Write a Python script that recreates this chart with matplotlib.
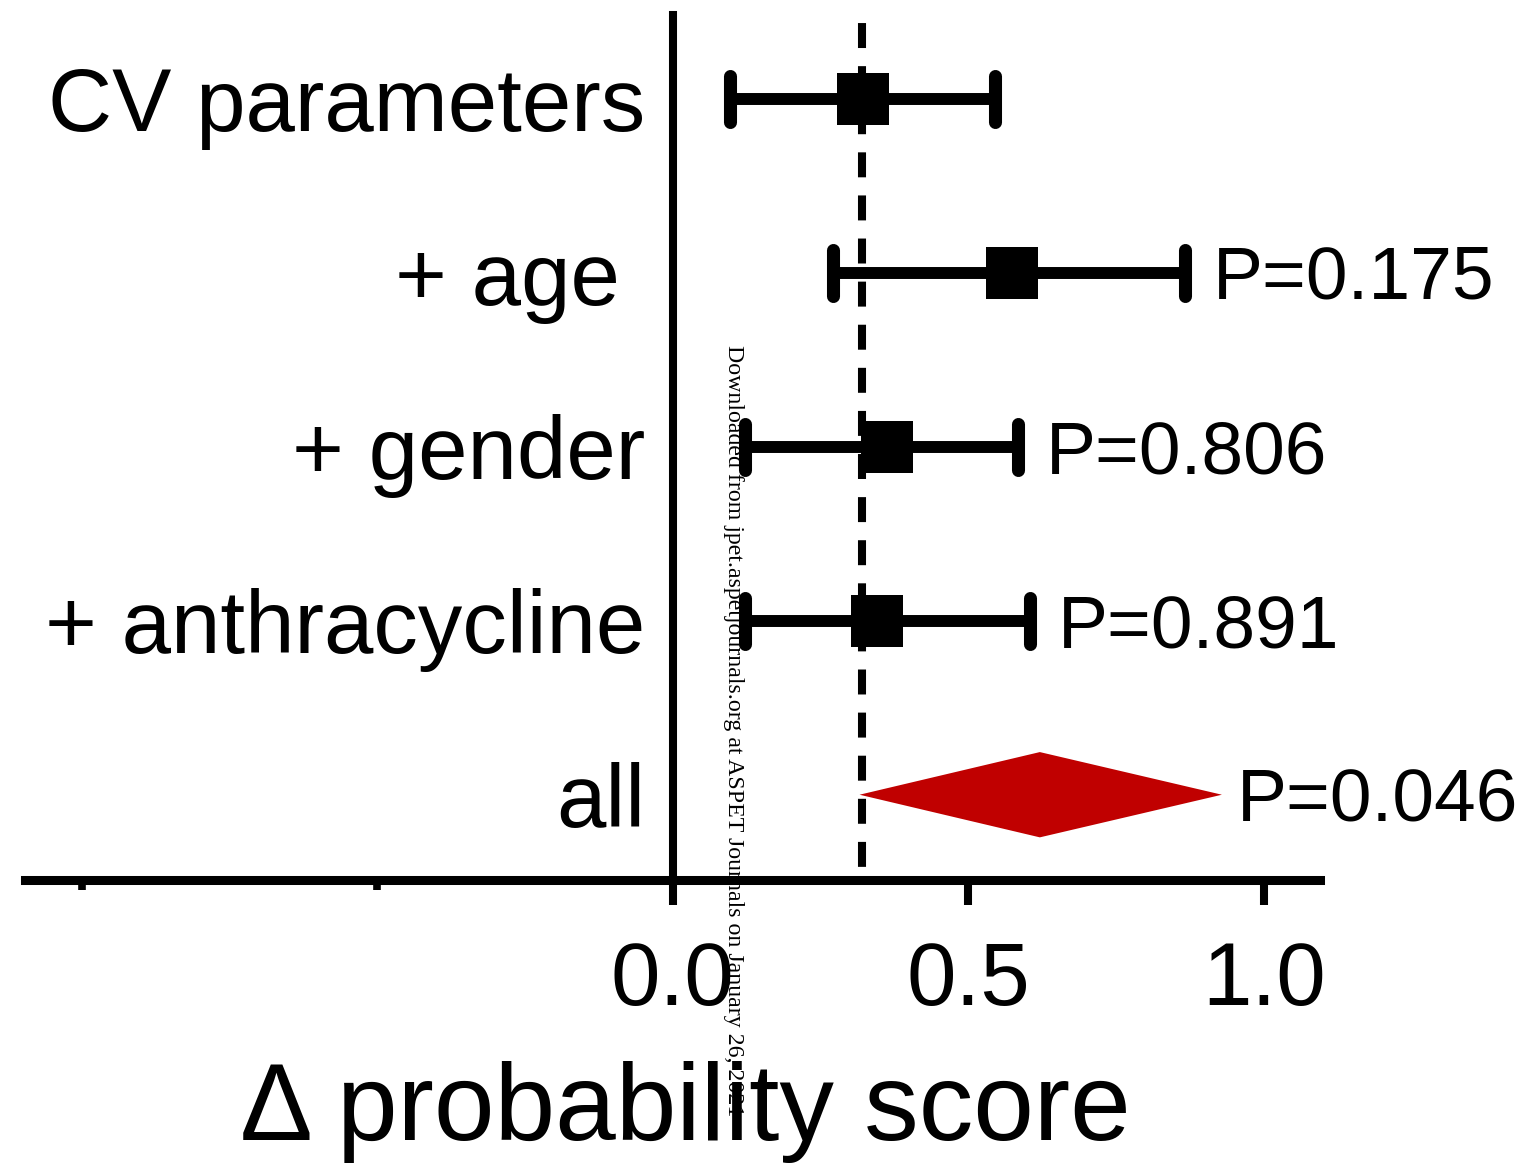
import matplotlib
matplotlib.use("Agg")
import matplotlib.pyplot as plt
import numpy as np

plt.rcParams['font.family'] = ['Liberation Sans', 'DejaVu Sans']

# ---- data ----
labels = ["CV parameters", "+ age ", "+ gender", "+ anthracycline", "all"]
estimate = [0.321, 0.574, 0.362, 0.345]
lower = [0.097, 0.271, 0.122, 0.122]
upper = [0.545, 0.866, 0.584, 0.604]
all_lo, all_mid, all_hi = 0.316, 0.621, 0.929
pvals = ["", "P=0.175", "P=0.806", "P=0.891", "P=0.046"]
ref_value = 0.320
xtick_vals = [0.0, 0.5, 1.0]
xtick_labels = ["0.0", "0.5", "1.0"]
minor_ticks = [-1.0, -0.5]
xlabel = "\u0394 probability score"
watermark = "Downloaded from jpet.aspetjournals.org at ASPET Journals on January 26, 2021"

W, H = 1534, 1166
fig = plt.figure(figsize=(W / 100, H / 100), dpi=100)
ax = fig.add_axes([25 / W, 1 - 880 / H, (1320 - 25) / W, (880 - 15) / H])

ypos = [5, 4, 3, 2, 1]
ax.set_xlim(-1.096, 1.095)
ax.set_ylim(0.51, 5.48)

# reference dashed line
ax.axvline(ref_value, color='black', lw=5.8, linestyle=(3.72, (3.1, 2.25)), zorder=1)

# error bars
bar_y = ypos[:4]
ax.hlines(bar_y, lower, upper, color='black', lw=8.6, zorder=2)
cap_h = 0.132
ax.vlines(lower, np.array(bar_y) - cap_h, np.array(bar_y) + cap_h, color='black',
          lw=9.4, capstyle='round', zorder=2)
ax.vlines(upper, np.array(bar_y) - cap_h, np.array(bar_y) + cap_h, color='black',
          lw=9.4, capstyle='round', zorder=2)
ax.plot(estimate, bar_y, 's', color='black', ms=37.4, mew=0, zorder=3)

# diamond for "all"
dh = 0.245
ax.fill([all_lo, all_mid, all_hi, all_mid],
        [ypos[4], ypos[4] + dh, ypos[4], ypos[4] - dh],
        color='#C00000', lw=0, zorder=3)

# p-value labels
right_ends = upper + [all_hi]
offsets = [20, 20, 20, 20, 11]
for yv, xr, p, off in zip(ypos, right_ends, pvals, offsets):
    if p:
        ax.annotate(p, xy=(xr, yv), xytext=(off, -19), textcoords='offset points',
                    ha='left', va='baseline', fontsize=54, color='black')

# spines
for s in ['top', 'right']:
    ax.spines[s].set_visible(False)
ax.spines['left'].set_position(('data', 0))
ax.spines['left'].set_linewidth(5.8)
ax.spines['bottom'].set_linewidth(6.5)
ax.spines['left'].set_zorder(4)

ax.set_yticks(ypos)
ax.set_yticklabels(labels, fontsize=64)
ax.tick_params(axis='y', length=0, pad=20)

ax.set_xticks(xtick_vals)
ax.set_xticklabels(xtick_labels, fontsize=64)
ax.set_xticks(minor_ticks, minor=True)
ax.tick_params(axis='x', which='major', length=18, width=5.8, direction='out', pad=25)
ax.tick_params(axis='x', which='minor', length=7, width=5.5, direction='out')

fig.text(685.5 / W, 1 - 1140 / H, xlabel, fontsize=78.5, ha='center', va='baseline')

fig.text(733 / W, 1 - 345 / H, watermark, rotation=-90, ha='center', va='top',
         fontsize=17.2, family=['Liberation Serif', 'DejaVu Serif'], color='black', zorder=10)

fig.savefig('out.png', dpi=100)
